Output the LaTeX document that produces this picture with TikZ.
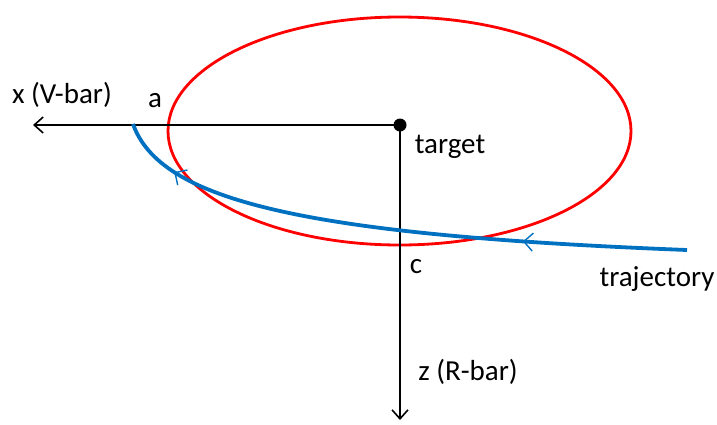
\documentclass[tikz,border=0pt]{standalone}
\usepackage{fontspec}
\setmainfont{Carlito}
\usepackage{tikz}
\usetikzlibrary{positioning,arrows.meta,decorations.markings}

\begin{document}
\begin{tikzpicture}[
    x=1pt, y=-1pt,
    font=\fontsize{29}{34}\selectfont,
    axis/.style={-{Straight Barb[length=9pt,width=16pt]}, line width=1.6pt},
    orbit/.style={draw=red, line width=2.8pt},
    traj/.style={draw={rgb,255:red,0;green,112;blue,192}, line width=3.8pt,
        postaction={decorate, decoration={markings,
            mark=at position 0.28 with {\arrow[line width=1.4pt]{Straight Barb[length=9pt,width=18pt]}},
            mark=at position 0.89 with {\arrow[line width=1.4pt]{Straight Barb[length=9pt,width=18pt]}}}}}
]
\useasboundingbox (0,0) rectangle (717,424);
\node[circle, fill, inner sep=0pt, minimum size=13pt] (target) at (400,125) {};
\coordinate (xend) at (33,125);
\coordinate (zend) at (400,420);
\coordinate (start) at (687,250);
\coordinate (stop) at (133,124);

\draw[orbit] (399.5,131) ellipse (231.5 and 114);
\draw[axis] (target.center) -- (xend);
\draw[axis] (target.center) -- (zend);
\draw[traj] (start) .. controls (300,235) and (160,200) .. (stop);

\node (xlabel) at (62,95) {x (V-bar)};
\node (alabel) at (155,101) {a};
\node (tlabel) at (450,147) {target};
\node (clabel) at (416,267) {c};
\node (trlabel) at (657,279) {trajectory};
\node (zlabel) at (468,372) {z (R-bar)};
\end{tikzpicture}
\end{document}
